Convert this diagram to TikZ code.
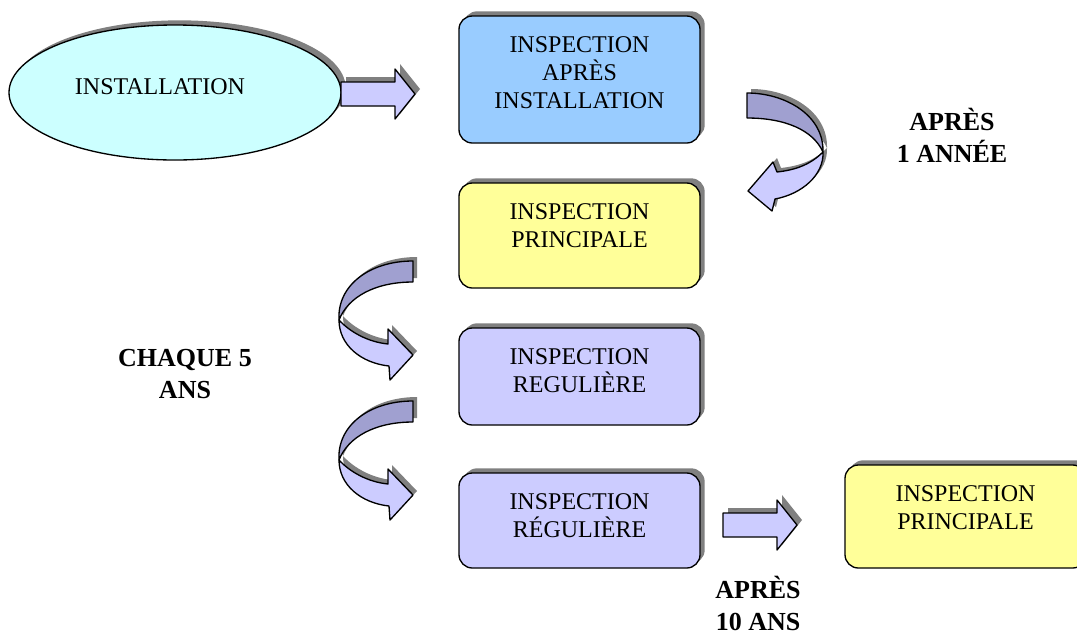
\documentclass[tikz,border=0pt]{standalone}
\usepackage{fontspec}
\setmainfont{Liberation Serif}
\usetikzlibrary{shapes.geometric,shadows}

\definecolor{cyanfill}{HTML}{CCFFFF}
\definecolor{bluefill}{HTML}{99CCFF}
\definecolor{yellowfill}{HTML}{FFFF99}
\definecolor{lilacfill}{HTML}{CCCCFF}
\definecolor{lilacdark}{HTML}{A0A0D0}
\definecolor{shadowgray}{HTML}{808080}

\begin{document}
\begin{tikzpicture}[
  x=0.75pt, y=-0.75pt,
  every node/.style={font=\fontsize{18}{21}\selectfont},
  boxshadow/.style={drop shadow={shadow xshift=3.5pt, shadow yshift=3.5pt, fill=shadowgray, opacity=1}},
  box/.style={rectangle, draw, line width=1pt, rounded corners=10pt, minimum width=180.75pt, boxshadow},
  boxtext/.style={anchor=north, yshift=-15.5pt, align=center, inner sep=0pt},
  note/.style={align=center, inner sep=0pt, font=\fontsize{19.5}{24}\selectfont\bfseries},
  arrline/.style={line width=1pt, line join=round},
  pics/blockarrow/.style={code={
    \fill[shadowgray] [shift={(5,-5)}] (0,-12) -- (54,-12) -- (54,-25) -- (74,0) -- (54,25) -- (54,12) -- (0,12) -- cycle;
    \filldraw[arrline, fill=lilacfill] (0,-12) -- (54,-12) -- (54,-25) -- (74,0) -- (54,25) -- (54,12) -- (0,12) -- cycle;
  }},
  % turn on the right, head pointing left
  pics/curlleft/.style={code={
    \fill[shadowgray] [shift={(4,-4)}] (0,0) .. controls (38,0) and (77,22) .. (76,59)
      .. controls (63,72) and (48,77) .. (30,79) -- (26,69) -- (1,98) -- (25,118) -- (28,106)
      .. controls (55,101) and (77,82) .. (76,59) .. controls (66,37) and (38,25) .. (0,25) -- cycle;
    \filldraw[arrline, fill=lilacdark] (0,0) .. controls (38,0) and (77,22) .. (76,59)
      .. controls (66,37) and (38,25) .. (0,25) -- cycle;
    \filldraw[arrline, fill=lilacfill] (76,59) .. controls (63,72) and (48,77) .. (30,79)
      -- (26,69) -- (1,98) -- (25,118) -- (28,106) .. controls (55,101) and (77,82) .. (76,59) -- cycle;
  }},
  % turn on the left, head pointing right
  pics/curlright/.style={code={
    \fill[shadowgray] [shift={(4,-4)}] (0,0) .. controls (-43,0) and (-76,24) .. (-74,59)
      .. controls (-63,71) and (-45,81) .. (-25,83) -- (-25,68) -- (0,94) -- (-23,119) -- (-24,105)
      .. controls (-52,102) and (-74,84) .. (-74,59) .. controls (-65,36) and (-38,21) .. (0,21) -- cycle;
    \filldraw[arrline, fill=lilacdark] (0,0) .. controls (-43,0) and (-76,24) .. (-74,59)
      .. controls (-65,36) and (-38,21) .. (0,21) -- cycle;
    \filldraw[arrline, fill=lilacfill] (-74,59) .. controls (-63,71) and (-45,81) .. (-25,83)
      -- (-25,68) -- (0,94) -- (-23,119) -- (-24,105) .. controls (-52,102) and (-74,84) .. (-74,59) -- cycle;
  }}
]
\useasboundingbox (0,0) rectangle (1077,636);
\clip (0,0) rectangle (1077,636);

\node[ellipse, draw, line width=1pt, fill=cyanfill, boxshadow, minimum width=249pt, minimum height=101.25pt,
  label={[xshift=-11.25pt, yshift=4pt, inner sep=0pt]center:INSTALLATION}] (install) at (175,92.5) {};

\node[box, fill=bluefill, minimum height=95.25pt,
  label={[boxtext]north:INSPECTION\\APRÈS\\INSTALLATION}] (insp1) at (579.5,79.5) {};
\node[box, fill=yellowfill, minimum height=78.75pt,
  label={[boxtext]north:INSPECTION\\PRINCIPALE}] (insp2) at (579.5,235.5) {};
\node[box, fill=lilacfill, minimum height=72.75pt,
  label={[boxtext]north:INSPECTION\\REGULIÈRE}] (insp3) at (579.5,376.5) {};
\node[box, fill=lilacfill, minimum height=71.25pt,
  label={[boxtext]north:INSPECTION\\RÉGULIÈRE}] (insp4) at (579.5,520.5) {};
\node[box, fill=yellowfill, minimum height=77.25pt,
  label={[boxtext]north:INSPECTION\\PRINCIPALE}] (insp5) at (965.5,516.5) {};

\node[note] (year) at (952,135) {APRÈS\\1 ANNÉE};
\node[note] (five) at (185,374) {CHAQUE 5\\ANS};
\node[note] (ten) at (758,603) {APRÈS\\10 ANS};

\pic at (341,94) {blockarrow};
\pic at (723,525) {blockarrow};
\pic at (747,93) {curlleft};
\pic at (413,261) {curlright};
\pic at (413,401) {curlright};
\end{tikzpicture}
\end{document}
